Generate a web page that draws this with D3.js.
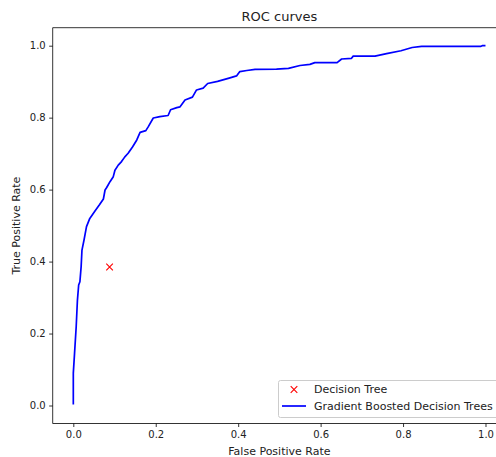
<!DOCTYPE html>
<html>
<head>
<meta charset="utf-8">
<script src="https://cdn.jsdelivr.net/npm/d3@7"></script>
<style>
  body { margin: 0; background: #fff; }
  svg { display: block; font-family: "DejaVu Sans", sans-serif; }
</style>
</head>
<body>
<svg id="chart" width="496" height="457"></svg>
<script>
// ROC curve of the gradient boosted model
const fpr = [0, 0.000, 0.003, 0.007, 0.010, 0.013, 0.016, 0.019, 0.021, 0.026, 0.032, 0.040, 0.053, 0.063, 0.073, 0.077, 0.081, 0.089, 0.097, 0.101, 0.109, 0.117, 0.125, 0.133, 0.144, 0.154, 0.162, 0.176, 0.182, 0.194, 0.210, 0.230, 0.236, 0.251, 0.259, 0.271, 0.289, 0.299, 0.315, 0.326, 0.350, 0.378, 0.396, 0.404, 0.421, 0.441, 0.493, 0.522, 0.550, 0.574, 0.586, 0.640, 0.651, 0.675, 0.679, 0.732, 0.760, 0.795, 0.822, 0.845, 0.988, 0.992, 1.0];
const tpr = [0.003, 0.09, 0.145, 0.219, 0.293, 0.335, 0.344, 0.386, 0.432, 0.46, 0.497, 0.52, 0.541, 0.557, 0.574, 0.599, 0.606, 0.622, 0.636, 0.654, 0.668, 0.678, 0.691, 0.701, 0.719, 0.738, 0.759, 0.764, 0.775, 0.799, 0.803, 0.806, 0.822, 0.828, 0.83, 0.849, 0.857, 0.877, 0.882, 0.895, 0.901, 0.91, 0.916, 0.928, 0.931, 0.934, 0.935, 0.937, 0.945, 0.948, 0.953, 0.953, 0.963, 0.965, 0.971, 0.971, 0.978, 0.986, 0.995, 0.998, 0.998, 1.0, 1.0];

// single decision tree operating point
const treePoint = [0.088, 0.385];

const ticks = [0.0, 0.2, 0.4, 0.6, 0.8, 1.0];
const legendLabels = ["Decision Tree", "Gradient Boosted Decision Trees"];

const svg = d3.select("#chart");
const axLeft = 52.7, axRight = 506.1, axTop = 27.7, axBottom = 423.5;

const x = d3.scaleLinear().domain([-0.05, 1.05]).range([axLeft, axRight]);
const y = d3.scaleLinear().domain([-0.05, 1.05]).range([axBottom, axTop]);

// axes
const xAxis = d3.axisBottom(x).tickValues(ticks).tickFormat(d3.format(".1f")).tickSize(3.5).tickPadding(3.5);
const yAxis = d3.axisLeft(y).tickValues(ticks).tickFormat(d3.format(".1f")).tickSize(3.5).tickPadding(3.5);

const gx = svg.append("g").attr("transform", "translate(0," + axBottom + ")").call(xAxis);
const gy = svg.append("g").attr("transform", "translate(" + axLeft + ",0)").call(yAxis);

[gx, gy].forEach(g => {
  g.select(".domain").remove();
  g.selectAll("line").attr("stroke", "#000").attr("stroke-width", 0.8);
  g.selectAll("text").attr("fill", "#222").style("font-size", "10px").style("font-family", "DejaVu Sans");
});

// spines (right one falls outside the crop)
const spine = (x1, y1, x2, y2) => svg.append("line")
  .attr("x1", x1).attr("y1", y1).attr("x2", x2).attr("y2", y2)
  .attr("stroke", "#000").attr("stroke-width", 0.8);
spine(axLeft, axTop, axRight, axTop);
spine(axLeft, axBottom, axRight, axBottom);
spine(axLeft, axTop, axLeft, axBottom);
spine(axRight, axTop, axRight, axBottom);

// curve
const line = d3.line().x((d, i) => x(fpr[i])).y((d, i) => y(tpr[i]));
svg.append("path")
  .datum(fpr)
  .attr("d", line)
  .attr("fill", "none")
  .attr("stroke", "#0000ff")
  .attr("stroke-width", 1.7)
  .attr("stroke-linejoin", "round");

// x marker
const drawX = (g, cx, cy, s) => {
  g.append("path")
    .attr("d", `M${cx - s},${cy - s}L${cx + s},${cy + s}M${cx - s},${cy + s}L${cx + s},${cy - s}`)
    .attr("stroke", "#ff0000")
    .attr("stroke-width", 1.1)
    .attr("fill", "none");
};
drawX(svg, x(treePoint[0]), y(treePoint[1]), 3.3);

// titles
svg.append("text").attr("x", (axLeft + axRight) / 2).attr("y", 21)
  .attr("text-anchor", "middle").attr("fill", "#222").style("font-size", "13px").text("ROC curves");
svg.append("text").attr("x", (axLeft + axRight) / 2).attr("y", 454.5)
  .attr("text-anchor", "middle").attr("fill", "#222").style("font-size", "11px").text("False Positive Rate");
svg.append("text").attr("transform", "translate(20," + (axTop + axBottom) / 2 + ") rotate(-90)")
  .attr("text-anchor", "middle").attr("fill", "#222").style("font-size", "11px").text("True Positive Rate");

// legend
const lg = svg.append("g");
lg.append("rect")
  .attr("x", 278.5).attr("y", 380.5).attr("width", 222).attr("height", 37)
  .attr("rx", 2).attr("fill", "#fff").attr("fill-opacity", 0.8)
  .attr("stroke", "#cccccc").attr("stroke-width", 1);
drawX(lg, 294, 389.5, 3.3);
lg.append("line").attr("x1", 282).attr("x2", 306).attr("y1", 406).attr("y2", 406)
  .attr("stroke", "#0000ff").attr("stroke-width", 1.7);
lg.selectAll("text.leg")
  .data(legendLabels)
  .enter()
  .append("text")
  .attr("class", "leg")
  .attr("x", 314)
  .attr("y", (d, i) => 393.3 + i * 16.5)
  .attr("fill", "#222")
  .style("font-size", "11px")
  .text(d => d);
</script>
</body>
</html>
